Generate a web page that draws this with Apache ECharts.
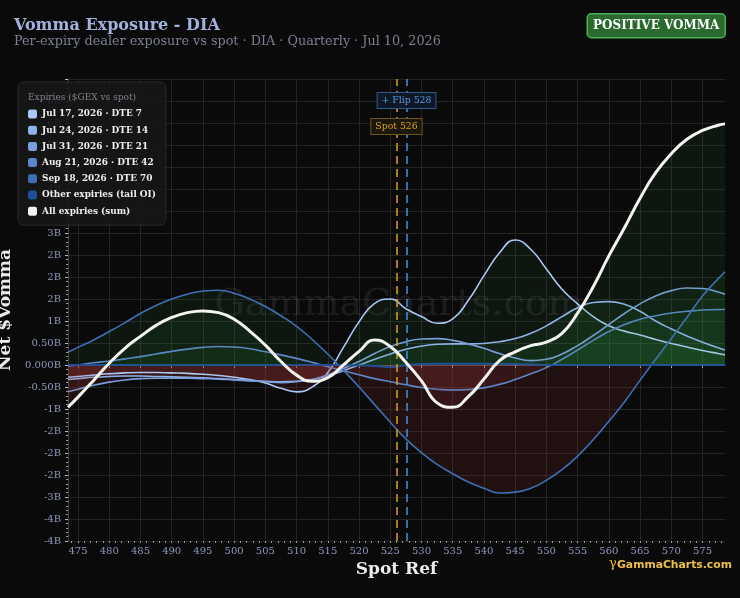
<!DOCTYPE html>
<html><head><meta charset="utf-8">
<script src="https://cdn.jsdelivr.net/npm/echarts@6/dist/echarts.min.js"></script>
<style>html,body{margin:0;padding:0;background:#0a0a0a;}#c{width:740px;height:598px;}</style>
</head><body><div id="c"></div>
<script>
// ---- data ----
const spotGrid = [473.4,475,477.5,480,482.5,485,487.5,490,492.5,495,497.5,500,502.5,505,507.5,510,512.5,515,517.5,520,522.5,525,527.5,530,532.5,535,537.5,540,542.5,545,547.5,550,552.5,555,557.5,560,562.5,565,567.5,570,572.5,575,577.5,578.6];
const jul17 = [-0.28,-0.26,-0.23,-0.20,-0.18,-0.17,-0.17,-0.18,-0.19,-0.21,-0.24,-0.28,-0.33,-0.41,-0.53,-0.61,-0.50,-0.17,0.40,0.98,1.40,1.50,1.28,1.10,0.95,1.05,1.47,2.03,2.55,2.84,2.63,2.18,1.72,1.39,1.10,0.89,0.77,0.68,0.58,0.49,0.41,0.33,0.26,0.23];
const jul24 = [-0.33,-0.31,-0.28,-0.26,-0.25,-0.25,-0.26,-0.27,-0.28,-0.29,-0.31,-0.33,-0.35,-0.37,-0.38,-0.37,-0.33,-0.25,-0.13,0.00,0.13,0.25,0.36,0.43,0.47,0.48,0.48,0.49,0.53,0.60,0.72,0.89,1.10,1.30,1.42,1.44,1.38,1.22,1.00,0.82,0.66,0.52,0.39,0.34];
const jul31 = [-0.61,-0.55,-0.46,-0.39,-0.34,-0.31,-0.30,-0.30,-0.30,-0.31,-0.32,-0.34,-0.36,-0.38,-0.40,-0.38,-0.33,-0.22,-0.08,0.08,0.26,0.42,0.53,0.59,0.60,0.56,0.48,0.38,0.26,0.16,0.10,0.13,0.25,0.44,0.67,0.92,1.17,1.39,1.57,1.69,1.75,1.74,1.66,1.61];
const aug21 = [-0.03,0.00,0.05,0.09,0.14,0.19,0.25,0.31,0.36,0.40,0.42,0.41,0.37,0.30,0.23,0.15,0.06,-0.04,-0.13,-0.22,-0.31,-0.38,-0.45,-0.51,-0.55,-0.57,-0.56,-0.52,-0.44,-0.33,-0.20,-0.06,0.13,0.34,0.56,0.76,0.92,1.04,1.12,1.18,1.22,1.25,1.26,1.26];
const sep18 = [0.29,0.40,0.57,0.76,0.96,1.17,1.35,1.50,1.61,1.68,1.70,1.63,1.50,1.33,1.12,0.88,0.58,0.25,-0.12,-0.50,-0.90,-1.30,-1.68,-1.99,-2.26,-2.47,-2.66,-2.80,-2.91,-2.89,-2.80,-2.62,-2.38,-2.07,-1.70,-1.28,-0.84,-0.35,0.13,0.60,1.08,1.57,1.96,2.12];
const otherTail = [0,0,0,0,0,0,0,0,0,0,0,0,0,0,0,0,0,0,0,-0.01,-0.02,-0.05,0.00,0.02,0.03,0.03,0.03,0.03,0.03,0.02,0.01,0,0,0,0,0,0,0,0,0,0,0,0,0];
const allSum = [-0.96,-0.73,-0.35,0.04,0.38,0.65,0.90,1.08,1.19,1.23,1.19,1.04,0.77,0.45,0.08,-0.23,-0.37,-0.29,0.00,0.31,0.57,0.42,0.06,-0.36,-0.86,-0.96,-0.72,-0.32,0.10,0.30,0.44,0.52,0.72,1.18,1.78,2.48,3.12,3.79,4.37,4.80,5.13,5.33,5.45,5.48];
const seriesNames = ['Jul 17, 2026 · DTE 7','Jul 24, 2026 · DTE 14','Jul 31, 2026 · DTE 21','Aug 21, 2026 · DTE 42','Sep 18, 2026 · DTE 70','Other expiries (tail OI)','All expiries (sum)'];
const xTicks = [475,480,485,490,495,500,505,510,515,520,525,530,535,540,545,550,555,560,565,570,575];
const spotPrice = 526;
const flipPrice = 527.6;
const X_MIN = 473.4, X_MAX = 578.6, Y_MIN = -4, Y_MAX = 6.5;

// ---- styling ----
const SERIF = "'DejaVu Serif', serif";
const colors = ['#a9c8f3','#8fb2e8','#7a9edb','#5c86c7','#3f6fb3','#1f4f94','#f3f3ef'];
const GRID = {left:68, right:15, top:79, bottom:57};
const H = 598;
const zeroOff = (Y_MAX - 0) / (Y_MAX - Y_MIN);
const fillGrad = {
  type:'linear', global:true, x:0, y:GRID.top, x2:0, y2:H-GRID.bottom,
  colorStops:[
    {offset:0, color:'rgba(45,150,65,0.09)'},
    {offset:zeroOff, color:'rgba(45,150,65,0.09)'},
    {offset:zeroOff, color:'rgba(155,50,50,0.16)'},
    {offset:1, color:'rgba(155,50,50,0.16)'}
  ]
};
function halfEven(v){
  const f = Math.floor(v); const d = v - f;
  if (Math.abs(d - 0.5) < 1e-9) return (f % 2 === 0) ? f : f + 1;
  return Math.round(v);
}
function fmtB(v){
  const a = Math.abs(v);
  if (a < 1e-9) return '0.000B';
  if (a >= 1) return halfEven(v) + 'B';
  return v.toFixed(2) + 'B';
}
const minorX = [];
for (let t = Math.ceil(X_MIN); t <= Math.floor(X_MAX); t++) minorX.push(t);

const dataSets = [jul17, jul24, jul31, aug21, sep18, otherTail, allSum];
const series = dataSets.map((arr, i) => ({
  name: seriesNames[i],
  type: 'line',
  smooth: true,
  symbol: 'none',
  silent: true,
  z: i === 6 ? 5 : 2,
  data: spotGrid.map((x, j) => [x, arr[j]]),
  lineStyle: {color: colors[i], width: i === 6 ? 3 : (i === 5 ? 2 : 1.6)},
  itemStyle: {color: colors[i]},
  areaStyle: {color: fillGrad, opacity: 1},
  emphasis: {disabled: true}
}));
series[6].markLine = {
  silent: true, symbol: 'none', animation: false,
  data: [
    {xAxis: spotPrice, lineStyle: {color:'#d9a21b', type:[8,5], width:1.5},
     label: {show:true, position:'end', distance:-55, formatter:'Spot ' + Math.round(spotPrice),
       color:'#d9a21b', fontFamily:SERIF, fontSize:9.3, backgroundColor:'#1c170b', borderColor:'#6e5519', borderWidth:1, padding:[3,4]}},
    {xAxis: flipPrice, lineStyle: {color:'#4a90e2', type:[8,5], width:1.5},
     label: {show:true, position:'end', distance:-29, formatter:'+ Flip ' + Math.round(flipPrice),
       color:'#5a9ce8', fontFamily:SERIF, fontSize:9.3, backgroundColor:'#0e1826', borderColor:'#2f5b8c', borderWidth:1, padding:[3,4]}}
  ]
};

const chart = echarts.init(document.getElementById('c'), null, {renderer:'canvas'});
chart.setOption({
  backgroundColor: '#0a0a0a',
  animation: false,
  title: {
    text: 'Vomma Exposure - DIA',
    subtext: 'Per-expiry dealer exposure vs spot · DIA · Quarterly · Jul 10, 2026',
    left: 9, top: 13, itemGap: 1,
    textStyle: {fontFamily: SERIF, fontWeight: 'bold', fontSize: 16, color: '#a3b2dc'},
    subtextStyle: {fontFamily: SERIF, fontSize: 12.8, color: '#7b8193'}
  },
  legend: {
    data: seriesNames,
    orient: 'vertical', left: 18, top: 82,
    padding: [26, 10, 8, 10],
    itemWidth: 9, itemHeight: 9, itemGap: 4.2,
    icon: 'roundRect',
    backgroundColor: 'rgba(22,22,22,0.9)',
    borderColor: '#2a2a2a', borderWidth: 1, borderRadius: 6,
    textStyle: {color: '#eeeeee', fontFamily: SERIF, fontSize: 8.9, fontWeight: 'bold', lineHeight: 12},
    selectedMode: false
  },
  grid: {left: GRID.left, right: GRID.right, top: GRID.top, bottom: GRID.bottom, containLabel: false, outerBoundsMode: 'none'},
  xAxis: [{
    type: 'value', min: X_MIN, max: X_MAX,
    name: 'Spot Ref', nameLocation: 'middle', nameGap: 17,
    nameTextStyle: {fontFamily: SERIF, fontWeight: 'bold', fontSize: 17, color: '#ececec'},
    axisLine: {show: true, lineStyle: {color: '#555'}},
    axisTick: {show: true, customValues: xTicks, length: 3, lineStyle: {color: '#aaa'}},
    axisLabel: {customValues: xTicks, color: '#8d99bd', fontFamily: SERIF, fontSize: 10, margin: 5},
    splitLine: {show: true, lineStyle: {color: '#242424', width: 1}}
  }, {
    type: 'value', min: X_MIN, max: X_MAX, position: 'bottom', gridIndex: 0,
    axisLine: {show: false},
    axisTick: {show: true, customValues: minorX, length: 2, lineStyle: {color: '#999'}},
    axisLabel: {show: false},
    splitLine: {show: false}
  }],
  yAxis: {
    type: 'value', min: Y_MIN, max: Y_MAX, interval: 0.5,
    name: 'Net $Vomma', nameLocation: 'middle', nameGap: 34,
    nameTextStyle: {fontFamily: SERIF, fontWeight: 'bold', fontSize: 17, color: '#ececec'},
    axisLine: {show: true, lineStyle: {color: '#444'}},
    axisTick: {show: true, length: 3, lineStyle: {color: '#bbb'}},
    minorTick: {show: true, splitNumber: 5, length: 2, lineStyle: {color: '#999'}},
    axisLabel: {formatter: fmtB, color: '#8d99bd', fontFamily: SERIF, fontSize: 10, margin: 7, showMaxLabel: false},
    splitLine: {show: true, lineStyle: {color: '#242424', width: 1}}
  },
  graphic: {elements: [
    {type: 'text', x: 399, y: 305, z: 1, silent: true,
     style: {text: 'GammaCharts.com', fill: 'rgba(255,255,255,0.075)', font: "38px 'DejaVu Serif'", textAlign: 'center', textVerticalAlign: 'middle'}},
    {type: 'text', left: 28, top: 93, z: 100, silent: true,
     style: {text: 'Expiries ($GEX vs spot)', fill: '#7d828c', font: "9px 'DejaVu Serif'"}},
    {type: 'group', right: 14, top: 13, z: 100, silent: true, children: [
      {type: 'rect', shape: {x: 0, y: 0, width: 138, height: 24, r: 4},
       style: {fill: '#2a6a2f', stroke: '#4caf50', lineWidth: 1.5}},
      {type: 'text', x: 69, y: 12,
       style: {text: 'POSITIVE VOMMA', fill: '#ffffff', font: "bold 12px 'DejaVu Serif'", textAlign: 'center', textVerticalAlign: 'middle'}}
    ]},
    {type: 'text', x: 609, y: 564, z: 100, silent: true,
     style: {text: 'γ', fill: '#e8b830', font: "13px 'DejaVu Serif'", textVerticalAlign: 'middle'}},
    {type: 'text', x: 617, y: 565, z: 100, silent: true,
     style: {text: 'GammaCharts.com', fill: '#ecc14a', font: "bold 10.8px 'DejaVu Sans'", textVerticalAlign: 'middle'}}
  ]},
  series: series
});
</script>
</body></html>
